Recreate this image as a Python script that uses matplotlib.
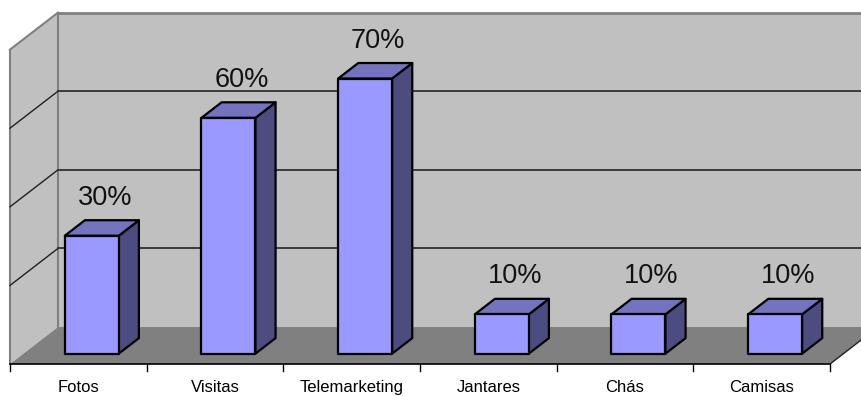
import matplotlib
matplotlib.use("Agg")
import matplotlib.pyplot as plt
from matplotlib.patches import Polygon

categories = ["Fotos", "Visitas", "Telemarketing", "Jantares", "Chás", "Camisas"]
values = [30, 60, 70, 10, 10, 10]
labels = ["30%", "60%", "70%", "10%", "10%", "10%"]
grid_values = [20, 40, 60]
axis_max = 80

plt.rcParams['font.family'] = ['Liberation Sans', 'DejaVu Sans']

fig = plt.figure(figsize=(8.62, 3.96), dpi=100)
ax = fig.add_axes([0, 0, 1, 1])
ax.set_xlim(-10 / 136.67, (862 - 10) / 136.67)
ax.set_ylim(-(396 - 364) / 3.93, 364 / 3.93)
ax.axis("off")

n = len(categories)
Dx, Dy = 0.351, 9.41          # depth vector of the plot box (data units)
f0, f1 = 0.28, 0.70           # bar depth span as fraction of box depth
w = 0.395                     # bar width

wall_c = "#C0C0C0"
floor_c = "#808080"
edge_g = "#808080"

right_end = n + 1.0
# back wall
ax.add_patch(Polygon([(Dx, Dy), (right_end, Dy), (right_end, Dy + axis_max), (Dx, Dy + axis_max)],
                     closed=True, facecolor=wall_c, edgecolor="none", zorder=1))
# left wall
ax.add_patch(Polygon([(0, 0), (Dx, Dy), (Dx, Dy + axis_max), (0, axis_max)],
                     closed=True, facecolor=wall_c, edgecolor="none", zorder=1))
# floor
ax.add_patch(Polygon([(0, 0), (n, 0), (n + Dx, Dy), (Dx, Dy)],
                     closed=True, facecolor=floor_c, edgecolor="none", zorder=2))

# wall borders
ax.plot([0, 0], [0, axis_max], color=edge_g, lw=1.5, zorder=3)
ax.plot([0, Dx], [axis_max, axis_max + Dy], color=edge_g, lw=1.5, zorder=3)
ax.plot([Dx, right_end], [axis_max + Dy, axis_max + Dy], color=edge_g, lw=2, zorder=3)
ax.plot([Dx, Dx], [Dy, Dy + axis_max], color=edge_g, lw=1.5, zorder=3)

# gridlines
for g in grid_values:
    ax.plot([0, Dx], [g, g + Dy], color="#202020", lw=1.0, zorder=3)
    ax.plot([Dx, right_end], [g + Dy, g + Dy], color="#303030", lw=1.3, zorder=3)

# floor edges / category axis
ax.plot([0, n], [0, 0], color="black", lw=1.2, zorder=4)
ax.plot([n, n + Dx], [0, Dy], color="#202020", lw=1.0, zorder=4)
for i in range(n + 1):
    ax.plot([i, i], [0, -1.8], color="black", lw=1.0, zorder=4)

front_c = "#9999FF"
top_c = "#7373BF"
side_c = "#4C4C80"

for i, (cat, v, lab) in enumerate(zip(categories, values, labels)):
    xl = i + 0.5 - w / 2 + f0 * Dx
    xr = xl + w
    yb = f0 * Dy
    yt = yb + v
    ddx = (f1 - f0) * Dx
    ddy = (f1 - f0) * Dy
    kw = dict(closed=True, edgecolor="black", lw=1.6, joinstyle="round", zorder=5)
    ax.add_patch(Polygon([(xr, yb), (xr + ddx, yb + ddy), (xr + ddx, yt + ddy), (xr, yt)],
                         facecolor=side_c, **kw))
    ax.add_patch(Polygon([(xl, yt), (xr, yt), (xr + ddx, yt + ddy), (xl + ddx, yt + ddy)],
                         facecolor=top_c, **kw))
    ax.add_patch(Polygon([(xl, yb), (xr, yb), (xr, yt), (xl, yt)],
                         facecolor=front_c, **kw))
    ax.text(i + 0.5 + (f0 + f1) / 2 * Dx + 0.022, yt + ddy + 3.9, lab, ha="center", va="baseline",
            fontsize=19.5, color="#111111", zorder=6)
    ax.text(i + 0.5, -5.9, cat, ha="center", va="center", fontsize=12, color="black", zorder=6)

fig.savefig("out.png", dpi=100, facecolor="white")
